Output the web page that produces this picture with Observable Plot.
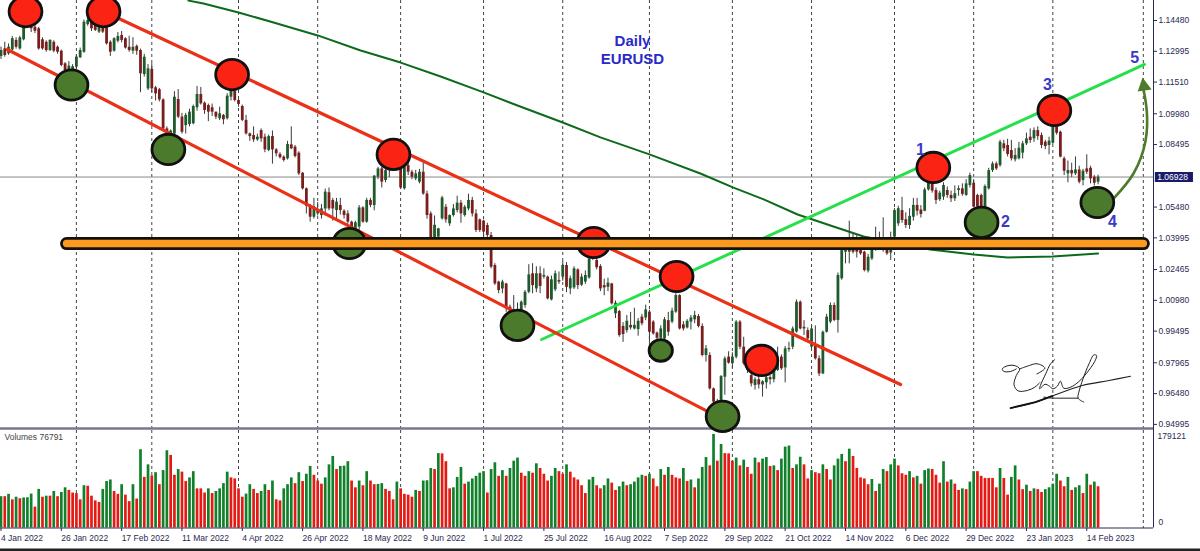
<!DOCTYPE html>
<html><head><meta charset="utf-8">
<script src="https://cdn.jsdelivr.net/npm/d3@7"></script>
<script src="https://cdn.jsdelivr.net/npm/@observablehq/plot@0.6"></script>
<style>html,body{margin:0;padding:0;background:#fff;overflow:hidden}svg{display:block}svg.pane-price{position:relative;z-index:2;overflow:visible;background:none}</style>
</head><body><div id="chart"></div>
<script>
// Prices in 1/10000 units, bars numbered from 4 Jan 2022
const openPrice=[11274,11311,11287,11306,11352,11311,11355,11420,11440,11416,
11408,11355,11343,11303,11343,11319,11300,11239,11200,11207,
11223,11268,11295,11428,11440,11432,11392,11424,11416,11343,
11300,11348,11376,11360,11319,11300,11323,11303,11187,11118,
11212,11123,11114,11065,10925,10895,10901,11067,10982,10941,
10946,10950,11027,11091,11049,11038,11027,11006,10974,10990,
10974,11078,11107,11062,11033,10966,10901,10893,10872,10917,
10885,10821,10888,10824,10802,10789,10781,10848,10837,10808,
10711,10636,10551,10499,10515,10507,10539,10617,10580,10531,
10556,10528,10515,10475,10440,10451,10544,10475,10580,10555,
10692,10732,10676,10724,10760,10735,10740,10636,10748,10716,
10684,10668,10716,10611,10515,10395,10403,10491,10547,10467,
10507,10531,10567,10507,10539,10580,10515,10486,10480,10459,
10411,10266,10186,10153,10177,10065,10030,10050,10049,10073,
10137,10226,10153,10226,10210,10210,10100,10149,10194,10210,
10266,10153,10158,10245,10171,10186,10206,10298,10290,10261,
10169,10161,10177,10033,10044,9972,9952,9977,9960,9957,
10017,10013,10041,9993,9940,9915,9912,10000,9993,10041,
10121,9980,9965,9993,10004,10020,9972,9832,9832,9671,
9610,9615,9727,9824,9792,9824,9993,9872,9790,9735,
9687,9715,9690,9700,9725,9715,9760,9824,9772,9860,
9872,9945,10089,9960,9952,9872,9880,9816,9743,9944,
9993,10073,10001,10202,10330,10330,10340,10340,10338,10330,
10239,10298,10346,10352,10348,10348,10326,10403,10467,10531,
10487,10459,10499,10556,10534,10528,10631,10660,10628,10583,
10596,10628,10604,10588,10628,10636,10604,10652,10663,10604,
10604,10548,10636,10724,10756,10748,10853,10845,10821,10776,
10781,10808,10853,10885,10877,10917,10893,10861,10845,10856,
10933,10909,10781,10708,10724,10708,10727,10676,10732,10735,10692,10668];
const closePrice=[11303,11279,11319,11360,11319,11364,11416,11448,11408,11396,
11311,11311,11303,11352,11300,11295,11231,11207,11228,11225,
11271,11303,11440,11448,11408,11400,11424,11392,11335,11295,
11360,11371,11352,11315,11303,11319,11300,11191,11271,11215,
11118,11094,11065,10925,10909,10915,11078,10982,10909,10990,
11006,11033,11091,11046,11014,11006,11006,10982,10998,10969,
11083,11110,11062,11043,10966,10901,10888,10872,10885,10877,
10824,10888,10824,10805,10786,10773,10850,10829,10792,10708,
10636,10551,10499,10548,10531,10539,10620,10539,10539,10572,
10531,10507,10475,10435,10472,10544,10475,10580,10556,10697,
10732,10668,10724,10760,10735,10755,10640,10740,10716,10692,
10708,10716,10611,10507,10395,10460,10443,10592,10486,10507,
10539,10567,10515,10547,10580,10515,10435,10435,10427,10411,
10258,10177,10145,10186,10057,10033,10050,10035,10089,10137,
10221,10169,10226,10165,10218,10105,10197,10226,10186,10266,
10161,10202,10250,10169,10210,10218,10298,10330,10255,10153,
10158,10181,10081,10084,9928,9933,9997,9965,9977,9997,
9985,10052,9944,9936,9915,9960,10004,9944,10046,10121,
9960,9960,9997,10013,10025,9972,9832,9864,9671,9607,
9580,9730,9816,9795,9824,9993,9872,9792,9760,9695,
9715,9690,9705,9725,9715,9760,9800,9768,9864,9866,
9960,10089,9960,9968,9912,9960,9816,9743,9944,10017,
10073,10001,10218,10338,10338,10340,10330,10330,10322,10242,
10306,10346,10352,10348,10350,10322,10342,10531,10540,10483,
10459,10503,10556,10528,10512,10631,10663,10625,10580,10615,
10652,10604,10588,10612,10636,10609,10660,10700,10548,10548,
10540,10647,10724,10756,10732,10861,10829,10802,10781,10797,
10832,10853,10877,10869,10917,10888,10845,10840,10866,10937,
10904,10789,10721,10724,10708,10727,10668,10721,10716,10684,10663,10692];
const highPrice=[11320,11343,11335,11370,11365,11372,11440,11460,11455,11425,
11415,11365,11350,11355,11350,11325,11305,11245,11250,11235,
11280,11315,11450,11460,11448,11435,11430,11430,11425,11350,
11365,11390,11395,11365,11372,11365,11330,11310,11285,11235,
11240,11130,11120,11070,10935,10920,11105,11115,11000,11000,
11020,11040,11130,11125,11055,11045,11045,11005,11030,10995,
11095,11115,11115,11070,11040,10990,10905,10935,10900,10925,
10900,10895,10915,10830,10810,10795,10865,10935,10845,10815,
10715,10640,10560,10590,10570,10560,10635,10640,10590,10590,
10590,10535,10530,10480,10480,10555,10550,10590,10590,10700,
10740,10740,10730,10770,10775,10765,10745,10745,10760,10725,
10725,10730,10760,10625,10525,10505,10445,10600,10560,10510,
10560,10600,10580,10555,10610,10595,10535,10490,10485,10470,
10425,10275,10190,10195,10180,10075,10121,10085,10095,10145,
10270,10275,10260,10260,10250,10215,10215,10240,10235,10285,
10280,10215,10260,10250,10225,10240,10305,10340,10300,10270,
10200,10205,10180,10095,10050,9990,10025,10040,10060,10010,
10030,10075,10050,10000,9945,9975,10015,10040,10060,10130,
10125,9995,10005,10025,10045,10030,9985,9880,9845,9675,
9620,9735,9825,9850,9845,10000,10000,9920,9800,9745,
9725,9730,9710,9735,9735,9770,9872,9835,9875,9896,
9970,10100,10095,10000,9965,9976,9975,9830,9950,10030,
10085,10085,10230,10345,10365,10480,10420,10410,10400,10335,
10320,10360,10451,10427,10496,10360,10427,10540,10552,10595,
10520,10540,10590,10590,10555,10640,10680,10680,10640,10625,
10665,10645,10625,10650,10650,10660,10680,10712,10680,10610,
10610,10655,10735,10765,10765,10870,10870,10875,10870,10830,
10860,10865,10905,10925,10930,10935,10905,10870,10885,10980,
10975,10915,10790,10770,10760,10790,10745,10730,10800,10745,10700,10702];
const lowPrice=[11260,11271,11280,11300,11310,11305,11350,11415,11390,11385,
11305,11305,11295,11298,11292,11285,11225,11195,11195,11200,
11215,11265,11290,11420,11395,11395,11385,11385,11330,11275,
11295,11340,11340,11310,11295,11285,11280,11100,11175,11110,
11100,11060,11055,10915,10900,10890,10895,10975,10900,10900,
10935,10945,11010,11040,10995,10960,10985,10970,10965,10945,
10968,11060,11055,11030,10960,10895,10865,10860,10865,10860,
10810,10815,10755,10790,10780,10765,10775,10825,10785,10700,
10630,10515,10475,10490,10505,10490,10505,10530,10480,10490,
10510,10490,10465,10420,10430,10420,10470,10470,10545,10530,
10680,10640,10665,10690,10720,10725,10635,10630,10700,10680,
10675,10660,10605,10490,10390,10370,10395,10485,10470,10455,
10500,10520,10470,10500,10530,10500,10425,10425,10405,10395,
10250,10170,10130,10130,10040,10025,10000,10020,10040,10060,
10130,10130,10135,10130,10200,10100,10095,10140,10175,10190,
10135,10125,10150,10150,10165,10175,10200,10290,10245,10140,
10120,10140,10075,10010,9920,9895,9940,9955,9955,9925,
9975,10000,9895,9930,9905,9905,9905,9925,9985,10035,
9955,9950,9960,9955,9985,9965,9825,9800,9665,9600,
9540,9605,9640,9790,9770,9815,9860,9785,9745,9680,
9665,9670,9631,9670,9690,9700,9755,9760,9700,9848,
9860,9940,9955,9928,9905,9864,9810,9730,9740,9940,
9985,9995,9940,10195,10274,10274,10322,10302,10315,10235,
10230,10290,10335,10340,10330,10315,10290,10380,10455,10470,
10445,10440,10480,10505,10495,10525,10625,10615,10560,10575,
10580,10590,10570,10575,10600,10600,10600,10640,10545,10530,
10530,10540,10630,10715,10725,10740,10815,10790,10770,10765,
10775,10780,10845,10855,10860,10870,10830,10825,10800,10850,
10895,10785,10700,10665,10690,10700,10660,10650,10705,10660,10650,10655];
// Volumes in thousands
const volume=[60,60,64.5,54,59,56,57.5,58,65,40,
74,59,61,61,70,60,68,77,72,67,
66,54,81,80,61,52,49,74,89,92,
70,64.5,83,63,50.5,83,55.5,150,97,121,
100,106,83,110,148,139,101,112,107,89,
96,108,75,75,67,75,66,70,75,85,
107,96,94,75,59,65,83,74,66,70,
83,72,90,54,52,75,83,96,85,106,
89,103,118,101,90,84,96,121,137,112,
118,118.5,127,90,77,90,81,108,90,83,
83.5,85,74,70,54,88,75,64.5,63,59,
72,70,90,90.5,114,112,142.5,142,127,75,
77,97,116,84,88,94,99,105,108,67,
112,125,99,110,99,114,128,134,105,99,
108,105,123,114,103,90,99,114,108,103,
121,107,96,92,81,66,92,97,81,75,
81,94,86,72,79,88,81,83,88,96,
101,99,103,94,79,112,101,116,101,96,
94,114,89,92,77,94,116,135,119,179.121,
128,160,142.5,142,128,134,119,130,116,103,
134,125,132,135,118,119,110,132,155,157,
114,121,135.5,121,94,110,106,104,121,112,
92,119,132,141,127,151,137,114,96,94,
83,93,70,84,112,108,121,132,119,104,
101,108,96,99,84,110,113,112,101,86,
127,88,92,84,72,75,73.5,88,108,108,
99,95,95,95,77,114,95,63,97,119,
92,73.5,82,70,75,73.5,68,73.5,77,84,
103,90,79,97,72,77,81,66,103,82,88,79];

const dateLabels=["4 Jan 2022","26 Jan 2022","17 Feb 2022","11 Mar 2022","4 Apr 2022","26 Apr 2022","18 May 2022","9 Jun 2022","1 Jul 2022","25 Jul 2022","16 Aug 2022","7 Sep 2022","29 Sep 2022","21 Oct 2022","14 Nov 2022","6 Dec 2022","29 Dec 2022","23 Jan 2023","14 Feb 2023"];
const dateBars=dateLabels.map((_,k)=>k*16);
const monthBars=[20,40,63,84,106,128,149,172,194,215,237,258,279,303];
const priceTicks=[1.1448,1.12995,1.1151,1.0998,1.08495,1.0548,1.03995,1.02465,1.0098,0.99495,0.97965,0.9648,0.94995];
const lastPrice=1.06928;

const maBar=[49.7,53.7,63,72.3,84,95.4,106,116.6,128,137,149,159,172,185.5,194.3,202.3,211.3,220,228.8,246.5,258,267,279,291];
const maPrice=[11544,11530,11487,11438,11376,11303,11245,11178,11101,11038,10956,10884,10802,10710,10642,10585,10512,10459,10406,10343,10319,10305,10310,10324];

const upperBar=[26.7,238.6], upperPrice=[11496,9692];
const lowerBar=[1.7,186.9], lowerPrice=[11308,9567];
const trendBar=[143.4,303.3], trendPrice=[9909,11236];
const supportBar=[17.4,303], supportPrice=[10372,10372];

const redBar=[6.5,27.2,61.3,104.1,157.2,179.2,201.7,247.3,279.4];
const redPrice=[11491,11491,11187,10802,10377,10213,9808,10739,11014];
const greenBar=[18.7,44.4,92.4,137,191.4,260.1,290.8];
const greenPrice=[11137,10826,10372,9977,9538,10474,10570];
const smallGreenBar=[175], smallGreenPrice=[9856];

const arrowBar=[295.1,300.4,303.6,303.9,303.1], arrowPrice=[10589,10710,10869,11014,11110];
const headBar=[302.8,301.5,305.2], headPrice=[11173,11105,11115];

const waveText=["1","3","5","2","4"], waveBar=[243.9,277.6,300.7,266.4,294.8], wavePrice=[10826,11139,11270,10478,10478];
const titleText=["Daily","EURUSD"], titleBar=[167.5,167.5], titlePrice=[11347,11260];

const signBar1=[269.3,267.8,266,265.6,266.6,268.7,270.2,269.3,268.7,269.8,272.2,274.2,275.5];
const signPrice1=[9767,9755,9755,9767,9780,9784,9767,9735,9690,9661,9663,9679,9700];
const signBar2=[270.2,272.2,274.8,276.9,274.8];
const signPrice2=[9767,9780,9792,9771,9743];
const signBar3=[279.5,278.4,277.1,275.7,275.5,276.9,278.1,279,280.2,281,281.9,283.7,285.9,287.8,290.1,290.6,289.9,288.6,287,285.9,285.7,287.2];
const signPrice3=[9812,9792,9743,9687,9671,9693,9684,9671,9684,9708,9674,9679,9706,9743,9803,9832,9835,9792,9719,9655,9626,9607];
const signBar4=[285.7,278.8,276.6], signPrice4=[9626,9626,9631];
const signBar5=[267.8,274.4,278.8,286.8,293.9,299.6], signPrice5=[9578,9607,9636,9687,9711,9732];

const xDomain=[-0.133,305.7];
const font="'Liberation Sans',Arial,sans-serif";
const pts=(xs,ys)=>xs.map((x,k)=>({x,y:ys[k]/1e4}));
const bars=openPrice.map((o,i)=>({i,o:o/1e4,c:closePrice[i]/1e4,h:highPrice[i]/1e4,l:lowPrice[i]/1e4,up:closePrice[i]>=o}));
const vols=volume.map((v,i)=>({i,v:v*1000,up:i===0||v>volume[i-1]}));
// slightly wide circle, as drawn on the chart
const ellipse={draw(c,s){const r=Math.sqrt(s/Math.PI),a=r*1.06,b=r*0.98,k=0.5523;
  c.moveTo(a,0);c.bezierCurveTo(a,k*b,k*a,b,0,b);c.bezierCurveTo(-k*a,b,-a,k*b,-a,0);
  c.bezierCurveTo(-a,-k*b,-k*a,-b,0,-b);c.bezierCurveTo(k*a,-b,a,-k*b,a,0);c.closePath();}};
const line=(xs,ys,o)=>Plot.line(pts(xs,ys),{x:"x",y:"y",...o});

const pricePlot=Plot.plot({
  width:1200,height:430,marginTop:0,marginBottom:0,marginLeft:0,marginRight:47,
  style:{fontFamily:font,fontSize:"8.5px",color:"#2a2a50"},
  x:{domain:xDomain,axis:null},
  y:{domain:[0.9470,1.15445],range:[430,0]},
  marks:[
    Plot.ruleX(monthBars,{stroke:"#444",strokeWidth:1,strokeDasharray:"3,3"}),
    Plot.ruleY([lastPrice],{x1:xDomain[0],x2:xDomain[1],stroke:"#8a8a8a",strokeWidth:1}),
    line(maBar,maPrice,{stroke:"#0d6a1c",strokeWidth:2,clip:true}),
    Plot.ruleX(bars,{x:"i",y1:"l",y2:"h",stroke:"#3a3a3a",strokeWidth:1}),
    Plot.ruleX(bars.filter(d=>d.up),{x:"i",y1:"o",y2:"c",stroke:"#1d5a2c",strokeWidth:2.8}),
    Plot.ruleX(bars.filter(d=>!d.up),{x:"i",y1:"o",y2:"c",stroke:"#7a1d1d",strokeWidth:2.8}),
    Plot.ruleY([0.9480],{x1:xDomain[0],x2:xDomain[1],stroke:"#77778e",strokeWidth:2.5}),
    line(trendBar,trendPrice,{stroke:"#25e04a",strokeWidth:3}),
    line(upperBar,upperPrice,{stroke:"#ea3016",strokeWidth:3.2}),
    line(lowerBar,lowerPrice,{stroke:"#ea3016",strokeWidth:3.2}),
    line(arrowBar,arrowPrice,{stroke:"#4d7a2b",strokeWidth:2.6,curve:"natural"}),
    line(headBar,headPrice,{stroke:"none",fill:"#4d7a2b"}),
    Plot.dot(pts(greenBar,greenPrice),{x:"x",y:"y",r:15.5,symbol:ellipse,fill:"#4c7a2c",stroke:"#111",strokeWidth:2.8}),
    Plot.dot(pts(smallGreenBar,smallGreenPrice),{x:"x",y:"y",r:11,symbol:ellipse,fill:"#4c7a2c",stroke:"#111",strokeWidth:2.8}),
    Plot.dot(pts(redBar,redPrice),{x:"x",y:"y",r:15.5,symbol:ellipse,fill:"#fb2414",stroke:"#111",strokeWidth:2.8}),
    line(supportBar,supportPrice,{stroke:"#111",strokeWidth:13,strokeLinecap:"round"}),
    line(supportBar,supportPrice,{stroke:"#fb9a1e",strokeWidth:7.5,strokeLinecap:"round"}),
    Plot.text(pts(waveBar,wavePrice),{x:"x",y:"y",text:(d,k)=>waveText[k],fill:"#3a3ac8",fontSize:16,fontWeight:"bold"}),
    Plot.text(pts(titleBar,titlePrice),{x:"x",y:"y",text:(d,k)=>titleText[k],fill:"#2a2ac8",fontSize:15,fontWeight:"bold"}),
    line(signBar1,signPrice1,{stroke:"#222",strokeWidth:1,curve:"catmull-rom"}),
    line(signBar2,signPrice2,{stroke:"#222",strokeWidth:1,curve:"catmull-rom"}),
    line(signBar3,signPrice3,{stroke:"#222",strokeWidth:1,curve:"catmull-rom"}),
    line(signBar4,signPrice4,{stroke:"#222",strokeWidth:1}),
    line(signBar5,signPrice5,{stroke:"#222",strokeWidth:1.1,curve:"catmull-rom"}),
    line(signBar5.slice(0,3),signPrice5.slice(0,3),{stroke:"#111",strokeWidth:1.9}),
    Plot.ruleX([xDomain[1]],{stroke:"#2a2a50",strokeWidth:1}),
    Plot.axisY({anchor:"right",ticks:priceTicks,tickFormat:d3.format(".5f"),tickSize:3,tickPadding:2,label:null}),
    Plot.ruleY([lastPrice],{x1:306.2,x2:316.3,stroke:"#1a1a6a",strokeWidth:10}),
    Plot.text([lastPrice],{x:306.7,y:d=>d,text:d=>d3.format(".5f")(d),textAnchor:"start",fill:"#fff",fontSize:8.5})
  ]
});
pricePlot.classList.add("pane-price");

const volumePlot=Plot.plot({
  width:1200,height:121,marginTop:0,marginBottom:23,marginLeft:0,marginRight:47,
  style:{fontFamily:font,fontSize:"8.5px",color:"#2a2a50",background:"#fff"},
  x:{domain:xDomain,axis:null},
  y:{domain:[0,186810],range:[97.5,0],axis:null},
  marks:[
    Plot.ruleX(monthBars,{stroke:"#444",strokeWidth:1,strokeDasharray:"3,3"}),
    Plot.ruleX(vols.filter(d=>d.up),{x:"i",y1:0,y2:"v",stroke:"#10802a",strokeWidth:2.7}),
    Plot.ruleX(vols.filter(d=>!d.up),{x:"i",y1:0,y2:"v",stroke:"#e51a14",strokeWidth:2.7}),
    Plot.ruleY([0],{x1:xDomain[0],x2:xDomain[1],stroke:"#2a2a50",strokeWidth:1}),
    Plot.ruleX([xDomain[1]],{y1:0,y2:186810,stroke:"#2a2a50",strokeWidth:1}),
    Plot.axisX({anchor:"bottom",ticks:dateBars,tickFormat:d=>dateLabels[d/16],textAnchor:"start",tickSize:3,tickPadding:3,label:null}),
    Plot.text([179121],{x:xDomain[1],y:d=>d,text:d=>String(d),dx:4,dy:2,textAnchor:"start",fill:"#2a2a50"}),
    Plot.text([0],{x:xDomain[1],y:d=>d,text:d=>String(d),dx:5,dy:-6,textAnchor:"start",fill:"#2a2a50"}),
    Plot.text(["Volumes 76791"],{frameAnchor:"top-left",dx:4,dy:3,fill:"#444",lineAnchor:"top"}),
    Plot.ruleY([-42152],{x1:xDomain[0],x2:318.3,stroke:"#222",strokeWidth:3})
  ]
});
document.getElementById("chart").append(pricePlot,volumePlot);
</script></body></html>
